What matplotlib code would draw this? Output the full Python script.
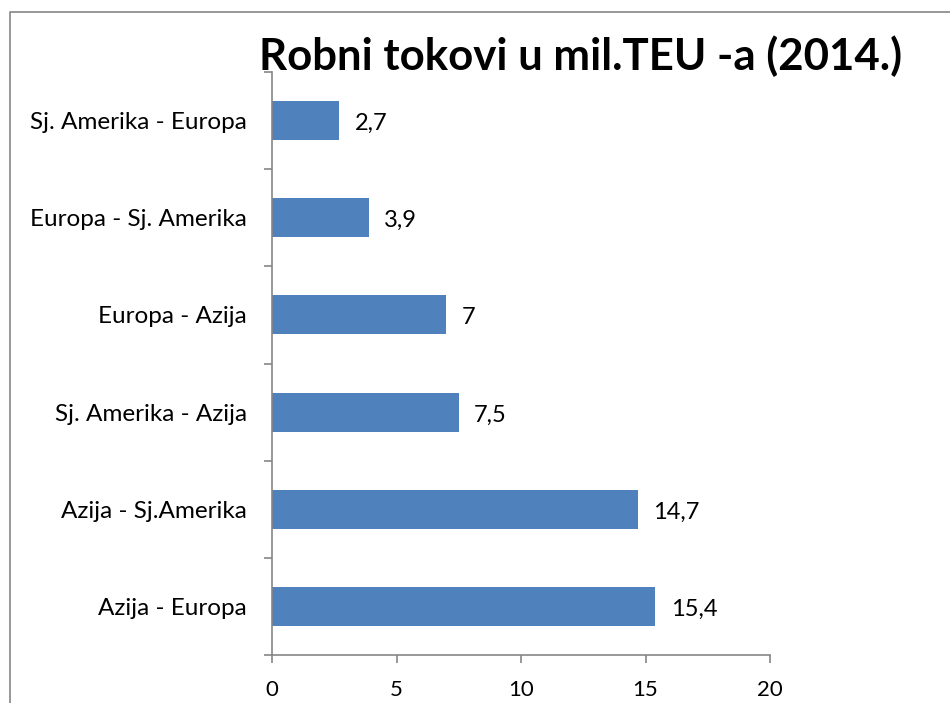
import matplotlib
matplotlib.use("Agg")
import matplotlib.pyplot as plt
from matplotlib.lines import Line2D
from matplotlib.ticker import FixedLocator

# data, bottom to top
categories = ["Azija - Europa", "Azija - Sj.Amerika", "Sj. Amerika - Azija",
              "Europa - Azija", "Europa - Sj. Amerika", "Sj. Amerika - Europa"]
values = [15.4, 14.7, 7.5, 7, 3.9, 2.7]
value_labels = ["15,4", "14,7", "7,5", "7", "3,9", "2,7"]
xticks = [0, 5, 10, 15, 20]

plt.rcParams['font.family'] = ['Lato', 'DejaVu Sans']

fig = plt.figure(figsize=(9.5, 7.03), dpi=100)
ax = fig.add_axes([272/950, 1-655/703, (770-272)/950, (655-72)/703])

pos = list(range(len(categories)))
ax.barh(pos, values, height=0.4, color="#4F81BD")

for p, v, lab in zip(pos, values, value_labels):
    ax.annotate(lab, (v, p), xytext=(11, -2), textcoords="offset points",
                va="center", ha="left", fontsize=17)

ax.set_xlim(0, 20)
ax.set_ylim(-0.5, len(categories) - 0.5)
ax.set_xticks(xticks)
ax.set_xticklabels([str(t) for t in xticks], fontsize=16)
ax.set_yticks(pos)
ax.set_yticklabels(categories, fontsize=17.5)
ax.yaxis.set_minor_locator(FixedLocator([i - 0.5 for i in range(len(categories) + 1)]))

ax.tick_params(axis="y", which="major", length=0, pad=18)
ax.tick_params(axis="y", which="minor", length=6, width=1.2, color="#868686")
ax.tick_params(axis="x", length=6, width=1.2, color="#868686", pad=12)

for s in ["top", "right"]:
    ax.spines[s].set_visible(False)
for s in ["left", "bottom"]:
    ax.spines[s].set_color("#868686")
    ax.spines[s].set_linewidth(1.2)

fig.text(581/950, 1-70/703, "Robni tokovi u mil.TEU -a (2014.)",
         ha="center", va="baseline", fontsize=31.5, fontweight="bold")

# chart frame
fig.add_artist(Line2D([10/950, 10/950, 1.0], [0.0, 1-12/703, 1-12/703],
                      transform=fig.transFigure, color="#868686", linewidth=1.2))

fig.savefig("out.png", dpi=100)
